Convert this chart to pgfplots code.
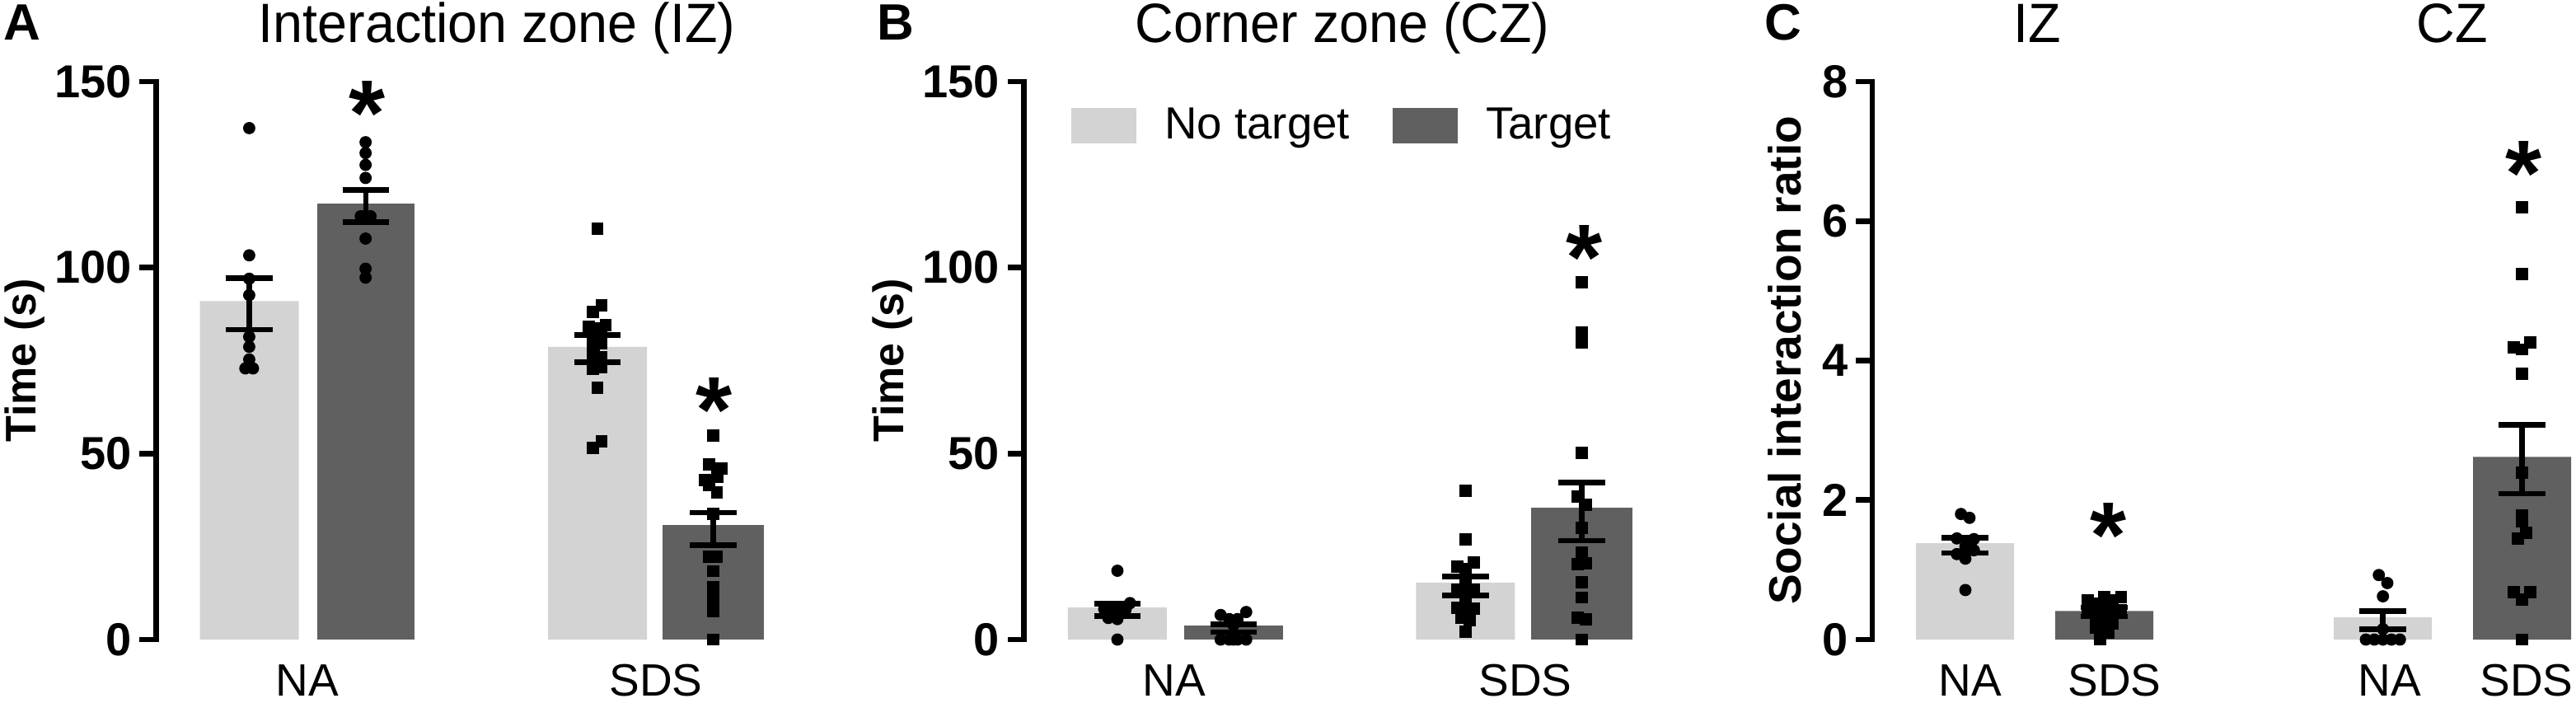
\documentclass[border=0pt]{standalone}
\usepackage{fontspec}
\setmainfont{Liberation Sans}
\usepackage{pgfplots}
\pgfplotsset{compat=1.18}

\definecolor{lightbar}{HTML}{D3D3D3}
\definecolor{darkbar}{HTML}{606060}

% 1 px of the reference = 0.3pt here, x data are in reference px
\pgfplotsset{
  panel/.style={
    x=0.3pt,
    anchor=south west,
    clip=false,
    ymin=0,
    axis y line*=left,
    axis x line*=bottom,
    x axis line style={draw=none},
    y axis line style={line width=2pt,line cap=rect},
    xtick style={draw=none},
    ytick style={black,line width=2pt},
    tick align=outside,
    major tick length=6pt,
    minor tick num=0,
    /pgf/number format/assume math mode=true,
    yticklabel style={font=\fontsize{16.8}{18}\selectfont\bfseries,inner sep=0pt,xshift=-2.7pt},
    xticklabel style={font=\fontsize{16.5}{18}\selectfont,inner sep=0pt,yshift=-2.4pt,text height=12pt},
    every axis y label/.style={at={(axis description cs:0,0.5)},rotate=90,anchor=base},
  },
  lightb/.style={ybar,bar shift=0pt,bar width=#1,fill=lightbar,draw=none},
  darkb/.style={ybar,bar shift=0pt,bar width=#1,fill=darkbar,draw=none},
  errs/.style={draw=none,mark=none,forget plot,
    error bars/.cd,y dir=both,y explicit,
    error bar style={draw=black,line width=2pt},
    error mark options={black,rotate=90,mark size=8.5pt,line width=2pt}},
  dots/.style={only marks,forget plot,mark=*,mark size=2.03pt,mark options={fill=black,draw=none}},
  squares/.style={only marks,forget plot,mark=square*,mark size=2.03pt,mark options={fill=black,draw=none}},
}

\begin{document}
\begin{tikzpicture}
\path[use as bounding box] (0,0) rectangle (937.8pt,255.6pt);

% panel A
\begin{axis}[panel,at={(56.8pt,22.8pt)},y=1.354pt,xmin=189.3,xmax=950,ymax=150,
  ytick={0,50,100,150},
  xtick={373,796},xticklabels={NA,SDS},
  ylabel={\fontsize{15.6}{18}\selectfont\bfseries Time (s)},
  every axis y label/.append style={yshift=43.9pt}]
\addplot[lightb=36pt] coordinates {(302.5,91) (725,78.7)};
\addplot[darkb=35.4pt] coordinates {(444,117.2)};
\addplot[darkb=36.9pt] coordinates {(865.5,30.8)};
\addplot[errs] coordinates {(302.5,90.2) +- (0,6.9) (444,116.55) +- (0,4.35) (725,78.15) +- (0,3.65) (865.5,29.7) +- (0,4.4)};
\addplot[dots] coordinates {(302.4,137.5) (302.4,103.3) (302.4,97) (302.4,92.6) (302.4,81.4) (302.4,78.7) (302.4,75.3) (297.7,72.9) (307,72.9)};
\addplot[dots] coordinates {(443.6,133.7) (443.6,130.8) (443.6,127.6) (443.6,124.1) (437.7,113.8) (443.6,113.8) (449.6,113.8) (443.6,107.8) (443.6,99.7) (443.6,97.3)};
\addplot[squares] coordinates {(725,110.4) (730,89.8) (719.7,88) (735,84.6) (714.7,84) (725,83.7) (730,82.2) (719.7,81.8) (730,79.6) (719.7,79.5) (719.7,76.3) (730,75.9) (725,74.9) (730,73.3) (719.7,72.8) (725,67.7) (730,53.3) (719.7,51.6)};
\addplot[squares] coordinates {(865.7,54.8) (860.3,47) (875.7,45.9) (870.3,43.8) (855.3,42.9) (860.3,41.6) (870,39.5) (865.4,33.8) (860.7,22.3) (870,22.3) (865.4,18.4) (865.4,14) (865.4,11.2) (865.4,9.4) (865.4,7.6) (865.4,0)};
\end{axis}

% panel B
\begin{axis}[panel,at={(372.8pt,22.8pt)},y=1.354pt,xmin=1242.7,xmax=2000,ymax=150,
  ytick={0,50,100,150},
  xtick={1425,1851},xticklabels={NA,SDS},
  ylabel={\fontsize{15.6}{18}\selectfont\bfseries Time (s)},
  every axis y label/.append style={yshift=44pt},
  legend columns=2,
  legend image code/.code={\fill[#1] (0pt,-6.4pt) rectangle (23.7pt,6.4pt);},
  legend style={draw=none,fill=none,inner sep=0pt,
    at={(axis cs:1299,144.5)},anchor=north west,
    font=\fontsize{16.4}{18}\selectfont,
    /tikz/every odd column/.append style={column sep=8.4pt},
    /tikz/every even column/.append style={column sep=13.4pt}}]
\addplot[lightb=36pt] coordinates {(1356,8.6) (1778.5,15.3)};
\addlegendentry{No target}
\addplot[darkb=36pt] coordinates {(1497,3.8)};
\addlegendentry{Target}
\addplot[darkb=36.9pt,forget plot] coordinates {(1919.5,35.5)};
\addplot[errs] coordinates {(1356,7.95) +- (0,1.65) (1497,3.02) +- (0,1.02) (1778.5,14.4) +- (0,2.6) (1919.5,34.4) +- (0,7.8)};
\addplot[dots] coordinates {(1356,18.5) (1356,0) (1371.3,9.8) (1340,8.2) (1350,8.35) (1361,8.35) (1366,8.1) (1345,5.8) (1356,5.5) (1356,6.9)};
\addplot[dots] coordinates {(1481.3,6.6) (1512.3,7.4) (1491.7,5.5) (1501.7,5.5) (1496.7,3.9) (1481.3,0) (1491.7,0) (1496.7,0) (1501.7,0) (1512.3,0)};
\addplot[squares] coordinates {(1778.7,40) (1778.7,26.9) (1788.7,20.7) (1768.3,19.6) (1778.7,18.9) (1778.7,16.1) (1768.3,13.5) (1788.7,13.5) (1778.7,13.9) (1778.7,11.7) (1778.7,10.6) (1768.3,8.6) (1788.7,8.4) (1778.7,8) (1773.3,5.9) (1783.7,5.3) (1778.7,2.1)};
\addplot[squares] coordinates {(1919.3,96.1) (1919.3,82.6) (1919.3,79.8) (1919.3,50.2) (1914.3,38.4) (1924.3,36.2) (1919.3,30.1) (1919.3,23.5) (1914.3,20.3) (1924.3,20.5) (1919.3,15.4) (1919.3,11.3) (1914.3,5.9) (1924.3,5.4) (1919.3,0)};
\end{axis}

% panel C
\begin{axis}[panel,at={(681.6pt,22.8pt)},y=25.3875pt,xmin=2272,xmax=3126,ymax=8,
  ytick={0,2,4,6,8},
  xtick={2391,2566,2900,3066},xticklabels={NA,SDS,NA,SDS},
  ylabel={\fontsize{16.5}{18}\selectfont\bfseries Social interaction ratio},
  every axis y label/.append style={yshift=26.1pt}]
\addplot[lightb=35.7pt] coordinates {(2384.5,1.38) (2891.5,0.32)};
\addplot[darkb=35.7pt] coordinates {(2553.5,0.41) (3060.5,2.62)};
\addplot[errs] coordinates {(2384.5,1.35) +- (0,0.11) (2553.5,0.395) +- (0,0.065) (2891.5,0.28) +- (0,0.13) (3060.5,2.585) +- (0,0.495)};
\addplot[dots] coordinates {(2379.7,1.8) (2390,1.745) (2374.7,1.45) (2395.3,1.44) (2385,1.33) (2390,1.33) (2385,1.27) (2395.3,1.28) (2374.7,1.225) (2385,1.16) (2385,0.71)};
\addplot[squares] coordinates {(2548.7,0) (2533.3,0.56) (2553.7,0.61) (2574,0.61) (2563.7,0.56) (2543.3,0.52) (2553.7,0.5) (2574,0.425) (2533.3,0.405) (2543.3,0.405) (2563.7,0.405) (2553.7,0.39) (2543.3,0.33) (2563.7,0.33) (2553.7,0.29) (2543.3,0.21) (2563.7,0.23) (2553.7,0.17) (2558.7,0.1) (2543.3,0.17)};
\addplot[dots] coordinates {(2886.7,0.925) (2897,0.81) (2891.7,0.62) (2891.7,0.15) (2871,0) (2881.3,0) (2891.7,0) (2902,0) (2912.3,0)};
\addplot[squares] coordinates {(3060.4,6.2) (3060.4,5.24) (3070.2,4.26) (3050.6,4.19) (3060.4,4.16) (3060.4,3.81) (3060.4,2.39) (3060.4,1.78) (3060.4,1.69) (3065.7,1.53) (3055.7,1.45) (3050.3,0.68) (3070.7,0.68) (3060.4,0.575) (3060.4,0)};
\end{axis}

% titles, panel letters, asterisks placed in reference px (y up)
\begin{scope}[x=0.3pt,y=0.3pt]
\tikzset{
  ttl/.style={anchor=base,inner sep=0pt,font=\fontsize{19.4}{22}\selectfont,yscale=1.04,transform shape},
  pan/.style={anchor=base west,inner sep=0pt,font=\fontsize{18.6}{20}\selectfont\bfseries},
  sig/.style={anchor=base,inner sep=0pt,font=\fontsize{34}{36}\selectfont\bfseries}}
\node[ttl] at (603,800) {Interaction zone (IZ)};
\node[ttl] at (1629,800) {Corner zone (CZ)};
\node[ttl] at (2472,800) {IZ};
\node[ttl] at (2976,800) {CZ};
\node[pan] at (4,803) {A};
\node[pan] at (1064,803) {B};
\node[pan] at (2141,803) {C};
\node[sig] at (446,676) {*};
\node[sig] at (867,316) {*};
\node[sig] at (1923,501) {*};
\node[sig] at (2559,164) {*};
\node[sig] at (3062,603) {*};
\end{scope}
\end{tikzpicture}
\end{document}
